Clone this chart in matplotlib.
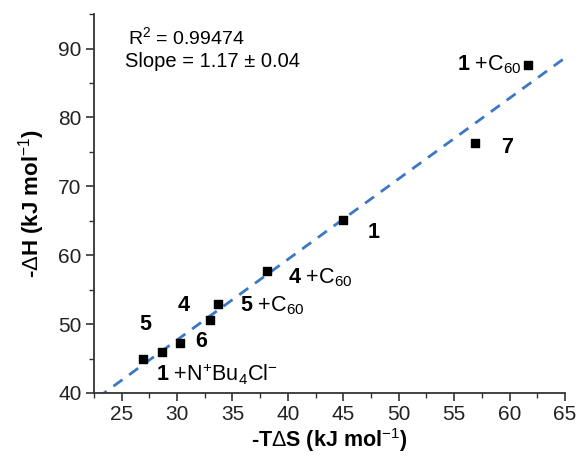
import matplotlib
matplotlib.use('Agg')
import matplotlib.pyplot as plt
from matplotlib.ticker import MultipleLocator
import numpy as np

plt.rcParams['font.family'] = ['Liberation Sans', 'DejaVu Sans']
plt.rcParams['mathtext.fontset'] = 'custom'
plt.rcParams['mathtext.rm'] = 'Liberation Sans'
plt.rcParams['mathtext.bf'] = 'Liberation Sans:bold'
plt.rcParams['mathtext.it'] = 'Liberation Sans:italic'

# data
tds = [26.9, 28.6, 30.3, 33.0, 33.7, 38.1, 45.0, 56.9, 61.7]
dh = [45.0, 45.9, 47.3, 50.6, 52.9, 57.7, 65.1, 76.3, 87.6]
etiquetas = [r'$\mathbf{5}$',
             r'$\mathbf{1}$ +N$^{+}$Bu$_{4}$Cl$^{-}$',
             r'$\mathbf{6}$',
             r'$\mathbf{4}$',
             r'$\mathbf{5}$ +C$_{60}$',
             r'$\mathbf{4}$ +C$_{60}$',
             r'$\mathbf{1}$',
             r'$\mathbf{7}$',
             r'$\mathbf{1}$ +C$_{60}$']
slope = 1.17
intercept = 12.6
r2 = 0.99474

# label placement (offset pixels, alignment)
offsets = [(3, 34, 'center'), (-6, -22, 'left'), (21, 1, 'center'),
           (-26, 14, 'center'), (22, -2, 'left'), (21, -7, 'left'),
           (30, -12, 'center'), (32, -5, 'center'), (-7, 0, 'right')]

fig = plt.figure(figsize=(5.8, 4.58), dpi=100)
ax = fig.add_axes([0.162, 0.142, 0.812, 0.827])

xl = np.array([20, 65])
ax.plot(xl, slope * xl + intercept, linestyle=(0, (4, 3)), color='#3b78c4', lw=2)
ax.scatter(tds, dh, marker='s', s=30, color='black', zorder=3)

for x, y, txt, (dx, dy, ha) in zip(tds, dh, etiquetas, offsets):
    ax.annotate(txt, (x, y), xytext=(dx, dy), textcoords='offset pixels',
                ha=ha, va='center', fontsize=15.5)

ax.text(0.072, 0.939, f'R$^2$ = {r2}', transform=ax.transAxes, fontsize=14, va='center')
ax.text(0.066, 0.874, 'Slope = 1.17 ± 0.04', transform=ax.transAxes, fontsize=14.5, va='center')

ax.set_xlim(22.5, 65)
ax.set_ylim(40, 95)
ax.xaxis.set_major_locator(MultipleLocator(5))
ax.xaxis.set_minor_locator(MultipleLocator(2.5))
ax.yaxis.set_minor_locator(MultipleLocator(5))
ax.set_yticks([40, 50, 60, 70, 80, 90])

for lado in ['top', 'right']:
    ax.spines[lado].set_visible(False)
for lado in ['left', 'bottom']:
    ax.spines[lado].set_linewidth(1.3)
    ax.spines[lado].set_color('#333333')

ax.tick_params(which='major', direction='out', length=6, width=1.2, labelsize=15,
               colors='#333333', pad=3)
ax.tick_params(which='minor', direction='out', length=3.5, width=1.0, colors='#333333')
ax.tick_params(labelcolor='#222222')

ax.set_xlabel(r'-T$\Delta$S (kJ mol$^{-1}$)', fontsize=15.5, fontweight='bold', labelpad=1)
ax.set_ylabel(r'-$\Delta$H (kJ mol$^{-1}$)', fontsize=16, fontweight='bold', labelpad=8)

fig.savefig('out.png', dpi=100)
